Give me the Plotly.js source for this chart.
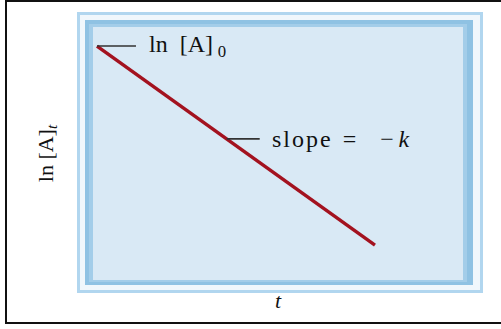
<!DOCTYPE html>
<html>
<head>
<meta charset="utf-8">
<script src="https://cdn.plot.ly/plotly-3.0.1.min.js"></script>
<style>
  html, body { margin: 0; padding: 0; background: #fff; }
  #chart { width: 501px; height: 329px; }
</style>
</head>
<body>
<div id="chart"></div>
<script>
// first-order kinetics: ln[A]t falls linearly with t
var tValues = [0, 6];
var lnA = [5, 1];

var startLabel = 'ln\u2002[A]\u2009<sub>0</sub>';
var slopeLabel = 's\u200al\u200ao\u200ap\u200ae\u2002=\u2003\u2212\u2009<i>k</i>';
var slopeAt = 2.8;   // t where the slope leader touches the line

var W = 501, H = 329;
var L = 93, R = 38, T = 27, B = 49;

// pixel -> paper helpers for the frame decoration
function px(x) { return (x - L) / (W - L - R); }
function py(y) { return (H - B - y) / (H - T - B); }

function frame(x0, y0, x1, y1, color) {
  return {
    type: 'rect', xref: 'paper', yref: 'paper', layer: 'below',
    x0: px(x0), x1: px(x1), y0: py(y1), y1: py(y0),
    fillcolor: color, line: { width: 0 }
  };
}

var line = {
  x: tValues,
  y: lnA,
  type: 'scatter',
  mode: 'lines',
  line: { color: '#a3121f', width: 3.4 },
  hoverinfo: 'none'
};

var slopeY = lnA[0] + (lnA[1] - lnA[0]) * (slopeAt - tValues[0]) / (tValues[1] - tValues[0]);

var serif = 'Liberation Serif, Times New Roman, serif';
var txt = { family: serif, size: 22, color: '#111' };
var big = { family: serif, size: 24, color: '#111' };

var layout = {
  width: W,
  height: H,
  margin: { l: L, r: R, t: T, b: B },
  paper_bgcolor: '#ffffff',
  plot_bgcolor: '#d9e9f5',
  showlegend: false,
  xaxis: {
    range: [-0.086, 7.9],
    showgrid: false, zeroline: false, showticklabels: false, ticks: '',
    showline: false, fixedrange: true,
    title: { text: '<i>t</i>', font: txt, standoff: 12 }
  },
  yaxis: {
    range: [0.297, 5.382],
    showgrid: false, zeroline: false, showticklabels: false, ticks: '',
    showline: false, fixedrange: true,
    title: { text: 'ln [A]<sub><i>t</i></sub>', font: txt, standoff: 32 }
  },
  shapes: [
    {
      type: 'rect', xref: 'paper', yref: 'paper', layer: 'below',
      x0: px(6), x1: px(506), y0: py(323), y1: py(1),
      fillcolor: 'rgba(0,0,0,0)', line: { color: '#111', width: 2 }
    },
    frame(77, 12, 483, 293, '#b1d6ef'),
    frame(80, 15, 480, 290, '#f0f7fc'),
    frame(85, 20, 473, 285, '#8fc2e3'),
    frame(89, 24, 467, 282, '#a3cde9'),
    frame(93, 27, 463, 280, '#d9e9f5')
  ],
  annotations: [
    {
      x: tValues[0], y: lnA[0], xref: 'x', yref: 'y',
      text: startLabel, showarrow: true, arrowhead: 0, arrowwidth: 1.6,
      arrowcolor: '#333', ax: 50, ay: 0, xanchor: 'left',
      startstandoff: 11, standoff: 0, font: big
    },
    {
      x: slopeAt, y: slopeY, xref: 'x', yref: 'y',
      text: slopeLabel, showarrow: true, arrowhead: 0, arrowwidth: 1.6,
      arrowcolor: '#333', ax: 43, ay: 0, xanchor: 'left',
      startstandoff: 10, standoff: 0, font: big
    }
  ]
};

Plotly.newPlot('chart', [line], layout, { staticPlot: true, displayModeBar: false });
</script>
</body>
</html>
